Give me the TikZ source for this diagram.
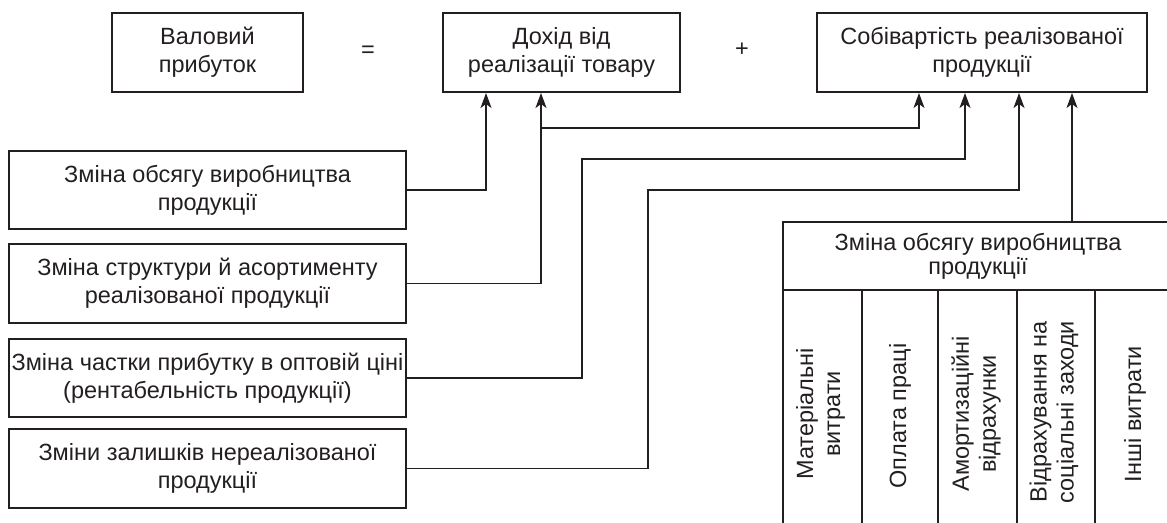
\documentclass[tikz,border=0pt]{standalone}
\usepackage{fontspec}
\setmainfont{Liberation Sans}
\usetikzlibrary{arrows.meta}
\definecolor{ink}{RGB}{35,31,32}
\begin{document}
\begin{tikzpicture}[x=1pt,y=-1pt,
  every node/.style={font=\fontsize{23.5}{28}\selectfont, text=ink, inner sep=0pt},
  bx/.style={draw=ink, line width=2pt, align=center},
  arr/.style={draw=ink, line width=1.3pt, -{Stealth[length=15pt,width=11pt,inset=4pt]}},
  tline/.style={draw=ink, line width=2pt},
  vt/.style={rotate=90, align=center, font=\fontsize{23.5}{27}\selectfont}]
\useasboundingbox (0,0) rectangle (1167,522);

% top row
\node[bx, minimum width=191pt, minimum height=79pt] (gp) at (207.5,52.5) {Валовий\\прибуток};
\node (eq) at (368,52) {=};
\node[bx, minimum width=237pt, minimum height=79pt] (inc) at (561.5,52.5) {Дохід від\\реалізації товару};
\node (pl) at (742,50) {+};
\node[bx, minimum width=330pt, minimum height=79pt] (cost) at (982,52.5) {Собівартість реалізованої\\продукції};

% left factors
\node[bx, minimum width=397pt, minimum height=78pt] (fa) at (207.5,190) {Зміна обсягу виробництва\\продукції};
\node[bx, minimum width=397pt, minimum height=79pt] (fb) at (207.5,283.5) {Зміна структури й асортименту\\реалізованої продукції};
\node[bx, minimum width=397pt, minimum height=78pt] (fc) at (207.5,378) {Зміна частки прибутку в оптовій ціні\\(рентабельність продукції)};
\node[bx, minimum width=397pt, minimum height=79pt] (fd) at (207.5,468.5) {Зміни залишків нереалізованої\\продукції};

% table
\node[bx, minimum width=390pt, minimum height=68pt, font=\fontsize{23.5}{24}\selectfont] (hdr) at (978,256) {Зміна обсягу виробництва\\продукції};
\foreach \xx in {783,862,938,1017,1095,1173} {
  \draw[tline] (\xx,290) -- (\xx,530);
}
\node[vt] (c1) at (820.5,414) {Матеріальні\\витрати};
\node[vt] (c2) at (900,416) {Оплата праці};
\node[vt] (c3) at (976,414) {Амортизаційні\\відрахунки};
\node[vt] (c4) at (1054,412) {Відрахування на\\соціальні заходи};
\node[vt] (c5) at (1135,414) {Інші витрати};

% arrow targets
\coordinate (t1) at ([xshift=44pt]inc.south west);
\coordinate (t2) at ([xshift=99pt]inc.south west);
\coordinate (t3) at ([xshift=103pt]cost.south west);
\coordinate (t4) at ([xshift=149pt]cost.south west);
\coordinate (t5) at ([xshift=203pt]cost.south west);
\coordinate (t6) at ([xshift=256pt]cost.south west);
\coordinate (j1) at (542,128);
\coordinate (k1) at (582,159);
\coordinate (m1) at (648,190);

% connectors
\draw[arr] (fa.east) -| (t1);
\draw[arr] (fb.east) -| (t2);
\draw[arr] (j1) -| (t3);
\draw[arr] (fc.east) -| (k1) -| (t4);
\draw[arr] (fd.east) -| (m1) -| (t5);
\draw[arr] (hdr.north -| t6) -- (t6);
\end{tikzpicture}
\end{document}
